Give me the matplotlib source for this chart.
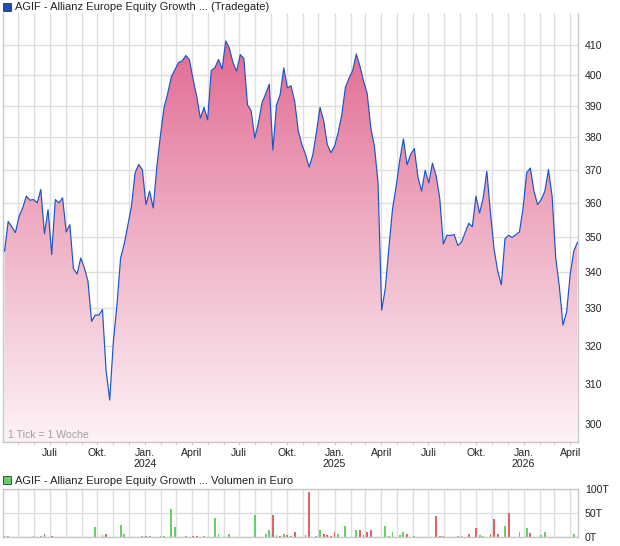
import numpy as np
import matplotlib
matplotlib.use('Agg')
import matplotlib.pyplot as plt
import matplotlib.dates as mdates
from matplotlib.colors import LinearSegmentedColormap
from matplotlib.patches import Rectangle
from matplotlib.ticker import FixedLocator, NullFormatter, NullLocator

plt.rcParams['font.family'] = ['Liberation Sans', 'DejaVu Sans']

# ---------------- data ----------------
title_price = "AGIF - Allianz Europe Equity Growth ... (Tradegate)"
title_volume = "AGIF - Allianz Europe Equity Growth ... Volumen in Euro"
tick_note = "1 Tick = 1 Woche"

start_date = "2023-04-05"   # first weekly point

prices = [
    346, 354.5, 353, 351.3, 356, 358.5, 362, 360.8, 361, 360,
    364, 351, 358, 345, 361, 360, 361.5, 351.5, 353.6, 341,
    339.5, 344, 341.3, 337.5, 326.5, 328.2, 328.2, 329.7, 313.5, 306,
    321, 331, 344, 348, 353.5, 359, 369, 371.6, 370, 359.5,
    363.5, 358.5, 371, 380.7, 389.5, 394, 399.5, 401.8, 404.2, 404.7,
    406.5, 405, 398.5, 393, 386, 389.5, 385.5, 401.5, 402.4, 405.2,
    402, 411.4, 409, 404, 401.3, 406.8, 405.5, 390.3, 388.5, 379.8,
    384.5, 391, 393.8, 397, 376, 390.3, 393.6, 402.4, 395.8, 396.5,
    391.5, 382, 377.7, 374.7, 370.8, 374.5, 381.5, 389.5, 385.2, 377.8,
    375.2, 377.2, 381.5, 387.1, 396, 399, 401.5, 407, 403, 398,
    394, 383, 377.2, 366, 329.5, 335.5, 347, 358.3, 365, 373,
    379.5, 371.5, 374.7, 376.5, 367.8, 363.5, 369.8, 366, 372, 368.2,
    361.5, 348, 350.5, 350.5, 350.7, 347.6, 348.5, 351.2, 354, 353,
    362, 357, 361.5, 369.5, 357.1, 346.5, 340.3, 336.5, 349.5, 350.5,
    349.9, 350.7, 351.5, 358.5, 369.1, 370.5, 363.5, 359.5, 361, 363.5,
    370, 362, 344, 336, 325.5, 329, 339.5, 346, 348.5,
]

# weekly volume (thousand euro), index = week number of the price series
vol_weeks = [0, 1, 3, 8, 10, 11, 13, 25, 27, 28, 32, 33, 38, 39, 40, 43, 44, 46, 47,
             50, 52, 53, 55, 58, 59, 62, 69, 72, 73, 74, 75, 76, 77, 78, 79, 80, 83,
             84, 86, 87, 88, 89, 90, 91, 92, 94, 97, 98, 99, 100, 101, 105, 106, 107,
             109, 110, 111, 113, 119, 120, 121, 125, 126, 128, 130, 131, 132, 134,
             135, 136, 138, 139, 142, 144, 145, 148, 149, 157]
vol_values = [2, 2, 1, 3, 1.5, 6, 1.5, 21, 4, 6, 25, 7, 3, 1.5, 1.5, 3, 1.5, 58, 21,
              1.5, 3, 3, 1.5, 40, 6, 6, 46, 6, 14, 46, 4, 1.5, 7, 4, 2, 11, 4,
              94, 2, 14, 6, 4, 2, 11, 6, 22, 14, 15, 4, 11, 14, 22, 3, 11,
              4, 11, 6, 1.5, 44, 1.5, 3, 1.5, 1.5, 6, 18, 4, 2, 6,
              37, 6, 22, 51, 10, 18, 8, 4, 10, 6]
vol_up = [0, 1, 0, 1, 1, 0, 0, 1, 1, 0, 1, 1, 1, 0, 1, 1, 1, 1, 1,
          1, 0, 0, 1, 1, 1, 1, 1, 1, 1, 0, 1, 0, 1, 0, 1, 0, 0,
          0, 1, 1, 0, 0, 0, 0, 1, 1, 1, 0, 0, 0, 0, 1, 1, 1,
          1, 1, 0, 1, 0, 0, 1, 1, 1, 0, 0, 1, 1, 0,
          0, 0, 1, 0, 1, 1, 0, 1, 1, 1]

y_ticks = [300, 310, 320, 330, 340, 350, 360, 370, 380, 390, 400, 410]
vol_ticks = [0, 50, 100]
vol_tick_labels = ["0T", "50T", "100T"]

x_tick_dates = ["2023-07-01", "2023-10-01", "2024-01-01", "2024-04-01",
                "2024-07-01", "2024-10-01", "2025-01-01", "2025-04-01",
                "2025-07-01", "2025-10-01", "2026-01-01", "2026-04-01"]
x_tick_labels = ["Juli", "Okt.", "Jan.\n2024", "April",
                 "Juli", "Okt.", "Jan.\n2025", "April",
                 "Juli", "Okt.", "Jan.\n2026", "April"]

# ---------------- derived ----------------
n = len(prices)
dates = np.datetime64(start_date) + np.arange(n) * np.timedelta64(7, 'D')
xd = mdates.date2num(dates)
xmin = mdates.date2num(np.datetime64("2023-04-02"))
xmax = mdates.date2num(np.datetime64("2026-04-16"))
tick_x = mdates.date2num(np.array(x_tick_dates, dtype='datetime64[D]'))
month_x = mdates.date2num(np.arange(np.datetime64("2023-04"), np.datetime64("2026-05"),
                                     np.timedelta64(1, 'M')).astype('datetime64[D]'))

W, H = 620, 546
fig = plt.figure(figsize=(W / 100, H / 100), dpi=100)
fig.patch.set_facecolor('white')

def box(l, t, r, b):
    return [l / W, 1 - b / H, (r - l) / W, (b - t) / H]

grid_c = '#dedede'
spine_c = '#c8c8c8'
txt_c = '#222222'
fs = 7.6

# ---------------- price panel ----------------
ax = fig.add_axes(box(3, 13, 578, 442))
ax.set_yscale('log')
ax.set_xlim(xmin, xmax)
ylo, yhi = 295.6, 421.0
ax.set_ylim(ylo, yhi)

poly = ax.fill_between(xd, prices, 200, facecolor='none', edgecolor='none')
cmap = LinearSegmentedColormap.from_list('pinkgrad', ['#fdf2f6', '#eeaec3', '#e0608b'])
grad = np.linspace(0, 1, 512).reshape(-1, 1)
im = ax.imshow(grad, cmap=cmap, extent=[0, 1, 0, 1], transform=ax.transAxes,
               aspect='auto', origin='lower', zorder=1, interpolation='bilinear')
im.set_clip_path(poly.get_paths()[0], transform=ax.transData)
ax.plot(xd, prices, color='#1a55c8', lw=0.85, zorder=3)
ax.set_xlim(xmin, xmax)
ax.set_ylim(ylo, yhi)

ax.yaxis.set_major_locator(FixedLocator(y_ticks))
ax.yaxis.set_minor_locator(NullLocator())
ax.set_yticklabels([str(v) for v in y_ticks])
ax.yaxis.tick_right()
ax.tick_params(axis='y', which='both', length=0, pad=5, labelsize=fs, labelcolor=txt_c)

ax.xaxis.set_major_locator(FixedLocator(tick_x))
ax.set_xticklabels(x_tick_labels)
ax.xaxis.set_minor_locator(FixedLocator(month_x))
ax.tick_params(axis='x', which='major', length=2, color=spine_c, pad=2, labelsize=fs,
               labelcolor=txt_c)
ax.tick_params(axis='x', which='minor', length=2, color=spine_c)
ax.grid(True, axis='y', which='major', color=grid_c, lw=1, zorder=0)
ax.grid(True, axis='x', which='both', color=grid_c, lw=1, zorder=0)
ax.set_axisbelow(True)
for s in ['left', 'right', 'bottom']:
    ax.spines[s].set_color(spine_c)
    ax.spines[s].set_linewidth(1)
ax.spines['top'].set_visible(False)

ax.text(0.008, 0.004, tick_note, transform=ax.transAxes, fontsize=fs, color='#a0a0a0',
        ha='left', va='bottom', zorder=4)

# ---------------- volume panel ----------------
axv = fig.add_axes(box(3, 489, 578, 537))
vx = xd[np.array(vol_weeks)]
vcol = ['#66d066' if u else '#e06464' for u in vol_up]
axv.bar(vx, vol_values, width=3.6, color=vcol, zorder=2, linewidth=0)
axv.set_xlim(xmin, xmax)
axv.set_ylim(0, 100)
axv.yaxis.set_major_locator(FixedLocator(vol_ticks))
axv.set_yticklabels(vol_tick_labels)
axv.yaxis.tick_right()
axv.tick_params(axis='y', length=0, pad=5, labelsize=fs, labelcolor=txt_c)
axv.xaxis.set_major_locator(FixedLocator(month_x))
axv.xaxis.set_major_formatter(NullFormatter())
axv.tick_params(axis='x', length=0)
axv.grid(True, color=grid_c, lw=1, zorder=0)
axv.set_axisbelow(True)
for s in axv.spines.values():
    s.set_color(spine_c)
    s.set_linewidth(1)

# ---------------- legends ----------------
fig.patches.append(Rectangle((3 / W, 1 - 11 / H), 8 / W, 8 / H, transform=fig.transFigure,
                             facecolor='#1e4fb4', edgecolor='#333333', lw=0.6))
fig.text(15 / W, 1 - 7.5 / H, title_price, fontsize=fs + 0.4, color=txt_c,
         ha='left', va='center')
fig.patches.append(Rectangle((3 / W, 1 - 484 / H), 8 / W, 8 / H, transform=fig.transFigure,
                             facecolor='#66d066', edgecolor='#333333', lw=0.6))
fig.text(15 / W, 1 - 480.5 / H, title_volume, fontsize=fs + 0.4, color=txt_c,
         ha='left', va='center')

fig.savefig('out.png', dpi=100)
